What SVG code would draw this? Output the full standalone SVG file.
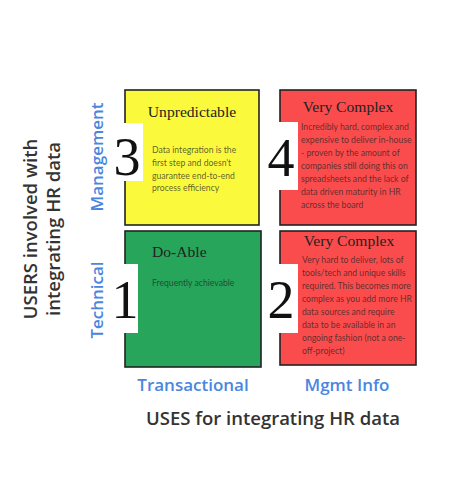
<svg xmlns="http://www.w3.org/2000/svg" width="457" height="497" viewBox="0 0 457 497">
<style>
.box{stroke:#222;stroke-width:1.6}
.num{font-family:"Liberation Serif","DejaVu Serif",serif;font-size:54px;fill:#111}
.title{font-family:"Liberation Serif","DejaVu Serif",serif;font-size:15.6px;fill:#222}
.body{font-family:Lato,"Noto Sans",sans-serif;font-size:8.65px;fill:#222;fill-opacity:0.72}
.blue{font-family:"Open Sans","Noto Sans",sans-serif;font-size:17px;fill:#4a86e0;font-weight:600}
.axis{font-family:"Open Sans","Noto Sans",sans-serif;font-size:18.5px;fill:#333;font-weight:600}
</style>
<rect width="457" height="497" fill="#fff"/>
<g id="q3">
<rect class="box" x="125" y="90" width="134" height="135" fill="#fbf93c"/>
<rect x="112" y="123" width="31" height="58" fill="#fff"/>
<text class="num" x="127" y="175" text-anchor="middle">3</text>
<text class="title" x="192" y="117" text-anchor="middle">Unpredictable</text>
<text class="body"><tspan x="152" y="153">Data integration is the</tspan><tspan x="152" y="166">first step and doesn't</tspan><tspan x="152" y="179">guarantee end-to-end</tspan><tspan x="152" y="191">process efficiency</tspan></text>
</g>
<g id="q4">
<rect class="box" x="280" y="90" width="136" height="135" fill="#fa4c4c"/>
<rect x="265" y="122" width="33" height="68" fill="#fff"/>
<text class="num" x="281" y="176" text-anchor="middle">4</text>
<text class="title" x="348" y="112" text-anchor="middle">Very Complex</text>
<text class="body"><tspan x="301" y="130">Incredibly hard, complex and</tspan><tspan x="301" y="143">expensive to deliver in-house</tspan><tspan x="301" y="156">- proven by the amount of</tspan><tspan x="301" y="169">companies still doing this on</tspan><tspan x="301" y="182">spreadsheets and the lack of</tspan><tspan x="301" y="195">data driven maturity in HR</tspan><tspan x="301" y="208">across the board</tspan></text>
</g>
<g id="q1">
<rect class="box" x="125" y="231" width="136" height="136" fill="#27a65b"/>
<rect x="112" y="264" width="26" height="69" fill="#fff"/>
<text class="num" x="125" y="318" text-anchor="middle">1</text>
<text class="title" x="152" y="257">Do-Able</text>
<text class="body" x="152" y="286">Frequently achievable</text>
</g>
<g id="q2">
<rect class="box" x="280" y="231" width="136" height="134" fill="#fa4c4c"/>
<rect x="265" y="264" width="33" height="69" fill="#fff"/>
<text class="num" x="281" y="318" text-anchor="middle">2</text>
<text class="title" x="349" y="246" text-anchor="middle">Very Complex</text>
<text class="body"><tspan x="302" y="263">Very hard to deliver, lots of</tspan><tspan x="302" y="276">tools/tech and unique skills</tspan><tspan x="302" y="289">required. This becomes more</tspan><tspan x="302" y="302">complex as you add more HR</tspan><tspan x="302" y="315">data sources and require</tspan><tspan x="302" y="328">data to be available in an</tspan><tspan x="302" y="341">ongoing fashion (not a one-</tspan><tspan x="302" y="354">off-project)</tspan></text>
</g>
<g id="axis-y">
<text class="blue" transform="translate(103,157) rotate(-90)" text-anchor="middle">Management</text>
<text class="blue" transform="translate(103,300) rotate(-90)" text-anchor="middle">Technical</text>
<text class="axis" transform="translate(37,229) rotate(-90)" text-anchor="middle">USERS involved with</text>
<text class="axis" transform="translate(60,229) rotate(-90)" text-anchor="middle">integrating HR data</text>
</g>
<g id="axis-x">
<text class="blue" x="193" y="391" text-anchor="middle">Transactional</text>
<text class="blue" x="347" y="391" text-anchor="middle">Mgmt Info</text>
<text class="axis" x="273" y="425" text-anchor="middle">USES for integrating HR data</text>
</g>
<g id="connectors"></g>
</svg>
